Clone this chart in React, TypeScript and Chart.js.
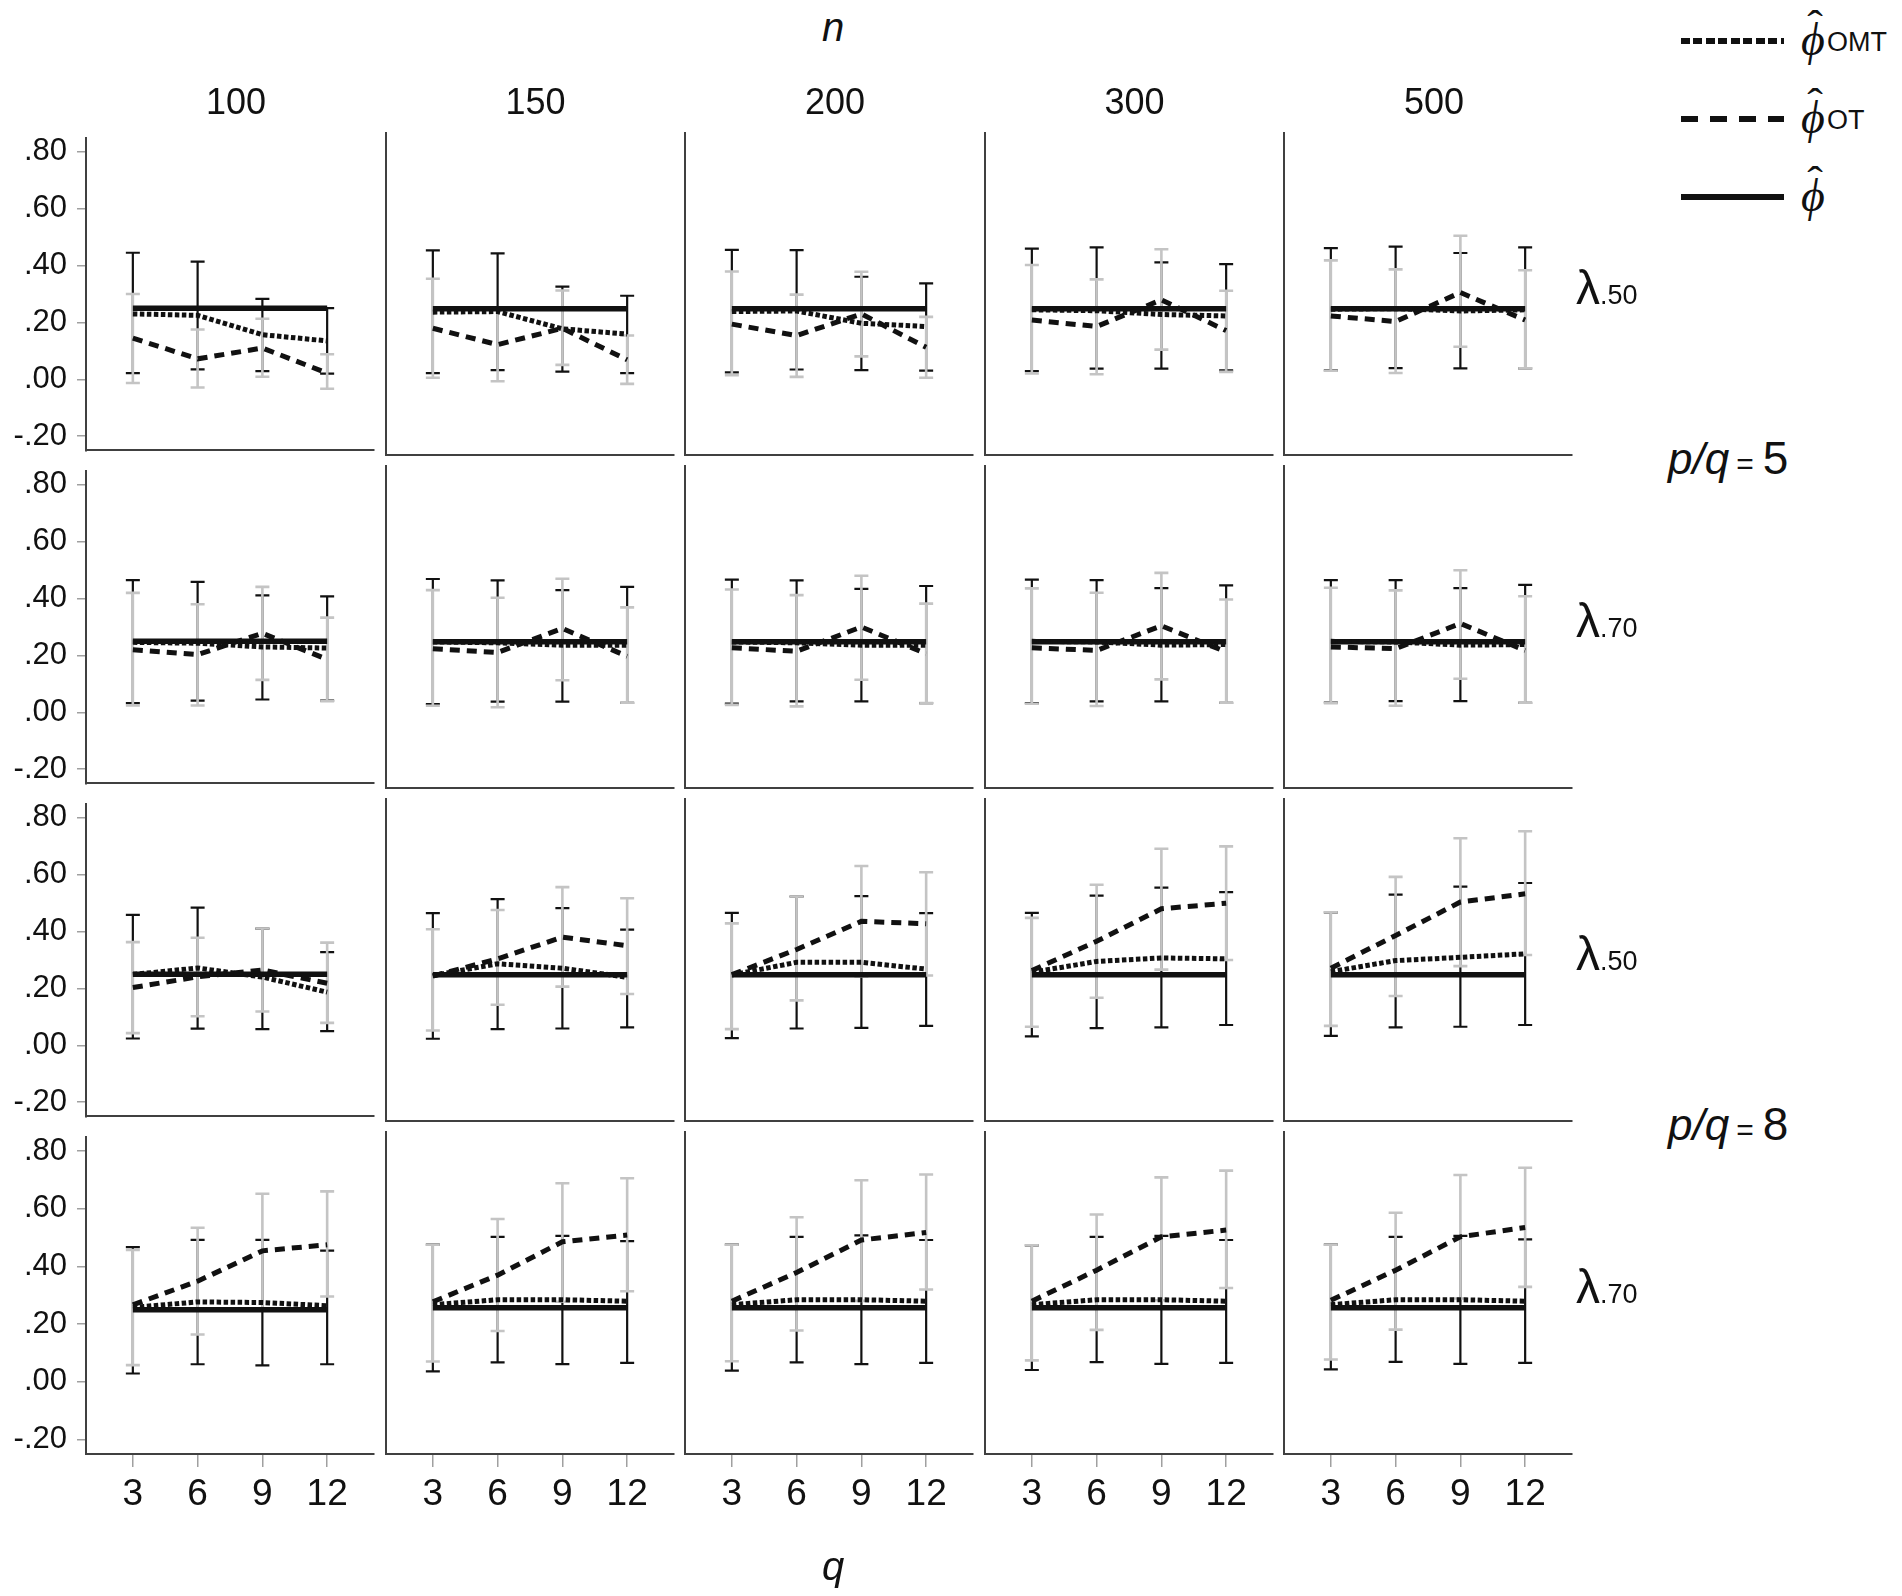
import { useEffect, useRef } from "react"
import { Chart, registerables } from "chart.js"

Chart.register(...registerables)

const Q_VALUES = [3, 6, 9, 12]
const N_VALUES = [100, 150, 200, 300, 500]
const Y_TICKS = [-0.2, 0, 0.2, 0.4, 0.6, 0.8]
const ROW_LAMBDA = [".50", ".70", ".50", ".70"]
const PQ_LABELS = ["5", "8"]
const LEGEND_SUBS = ["OMT", "OT", ""]
const PHI_TRUE = [0.25, 0.25, 0.25, 0.25]

// all below are [row][n][q]
const OMT_MEAN = [
  [[0.23, 0.225, 0.157, 0.135], [0.238, 0.24, 0.181, 0.163], [0.24, 0.242, 0.2, 0.189], [0.246, 0.243, 0.23, 0.225], [0.248, 0.25, 0.242, 0.246]],
  [[0.246, 0.243, 0.23, 0.226], [0.249, 0.246, 0.238, 0.238], [0.249, 0.246, 0.238, 0.238], [0.251, 0.249, 0.238, 0.24], [0.251, 0.249, 0.238, 0.24]],
  [[0.249, 0.272, 0.24, 0.187], [0.247, 0.287, 0.272, 0.241], [0.249, 0.292, 0.292, 0.269], [0.258, 0.295, 0.307, 0.304], [0.26, 0.298, 0.309, 0.321]],
  [[0.258, 0.277, 0.275, 0.264], [0.26, 0.277, 0.277, 0.272], [0.26, 0.277, 0.277, 0.272], [0.26, 0.277, 0.277, 0.272], [0.26, 0.277, 0.277, 0.272]],
]

const OT_MEAN = [
  [[0.145, 0.072, 0.11, 0.022], [0.183, 0.127, 0.183, 0.075], [0.197, 0.158, 0.232, 0.118], [0.211, 0.189, 0.28, 0.175], [0.225, 0.206, 0.305, 0.211]],
  [[0.22, 0.203, 0.278, 0.186], [0.226, 0.213, 0.295, 0.2], [0.229, 0.217, 0.3, 0.209], [0.229, 0.22, 0.304, 0.215], [0.232, 0.226, 0.312, 0.22]],
  [[0.203, 0.241, 0.265, 0.218], [0.245, 0.304, 0.378, 0.349], [0.25, 0.336, 0.432, 0.424], [0.264, 0.364, 0.475, 0.494], [0.272, 0.384, 0.498, 0.526]],
  [[0.267, 0.349, 0.454, 0.475], [0.27, 0.361, 0.475, 0.498], [0.272, 0.37, 0.481, 0.507], [0.272, 0.378, 0.492, 0.515], [0.275, 0.378, 0.492, 0.524]],
]

const OMT_LO = [
  [[0.022, 0.035, 0.029, 0.02], [0.03, 0.04, 0.035, 0.03], [0.032, 0.042, 0.04, 0.038], [0.037, 0.045, 0.045, 0.039], [0.039, 0.047, 0.046, 0.046]],
  [[0.032, 0.041, 0.045, 0.041], [0.037, 0.045, 0.045, 0.041], [0.038, 0.046, 0.046, 0.04], [0.04, 0.046, 0.046, 0.041], [0.042, 0.047, 0.047, 0.041]],
  [[0.024, 0.059, 0.057, 0.05], [0.031, 0.064, 0.066, 0.07], [0.033, 0.066, 0.068, 0.075], [0.039, 0.067, 0.07, 0.078], [0.041, 0.07, 0.072, 0.078]],
  [[0.029, 0.061, 0.057, 0.061], [0.032, 0.063, 0.057, 0.061], [0.035, 0.063, 0.057, 0.061], [0.037, 0.064, 0.058, 0.061], [0.039, 0.065, 0.058, 0.061]],
]

const OMT_HI = [
  [[0.445, 0.414, 0.283, 0.25], [0.449, 0.439, 0.325, 0.294], [0.451, 0.45, 0.359, 0.336], [0.455, 0.459, 0.408, 0.402], [0.457, 0.462, 0.44, 0.459]],
  [[0.465, 0.459, 0.411, 0.408], [0.464, 0.459, 0.426, 0.437], [0.462, 0.459, 0.43, 0.44], [0.462, 0.46, 0.433, 0.442], [0.46, 0.46, 0.433, 0.444]],
  [[0.459, 0.484, 0.41, 0.328], [0.46, 0.508, 0.477, 0.404], [0.461, 0.517, 0.518, 0.46], [0.461, 0.52, 0.547, 0.532], [0.463, 0.523, 0.551, 0.563]],
  [[0.467, 0.492, 0.492, 0.455], [0.465, 0.492, 0.495, 0.477], [0.465, 0.492, 0.497, 0.481], [0.463, 0.492, 0.495, 0.481], [0.465, 0.492, 0.495, 0.483]],
]

const OT_LO = [
  [[-0.013, -0.029, 0.009, -0.033], [0.014, 0.002, 0.058, -0.007], [0.023, 0.017, 0.087, 0.014], [0.029, 0.026, 0.11, 0.034], [0.038, 0.03, 0.12, 0.046]],
  [[0.024, 0.024, 0.114, 0.039], [0.031, 0.026, 0.118, 0.041], [0.034, 0.029, 0.12, 0.04], [0.038, 0.03, 0.121, 0.041], [0.04, 0.031, 0.123, 0.041]],
  [[0.043, 0.102, 0.119, 0.079], [0.059, 0.147, 0.209, 0.184], [0.064, 0.162, 0.244, 0.247], [0.072, 0.171, 0.267, 0.3], [0.075, 0.177, 0.279, 0.317]],
  [[0.058, 0.164, 0.255, 0.296], [0.066, 0.17, 0.27, 0.306], [0.067, 0.172, 0.273, 0.312], [0.07, 0.174, 0.275, 0.317], [0.073, 0.175, 0.281, 0.321]],
]

const OT_HI = [
  [[0.3, 0.175, 0.213, 0.088], [0.352, 0.25, 0.312, 0.158], [0.377, 0.298, 0.376, 0.222], [0.399, 0.35, 0.453, 0.311], [0.415, 0.384, 0.499, 0.381]],
  [[0.42, 0.38, 0.441, 0.333], [0.426, 0.4, 0.465, 0.367], [0.428, 0.409, 0.475, 0.38], [0.432, 0.417, 0.485, 0.394], [0.434, 0.425, 0.494, 0.405]],
  [[0.363, 0.378, 0.411, 0.361], [0.405, 0.471, 0.549, 0.511], [0.425, 0.517, 0.621, 0.6], [0.444, 0.557, 0.68, 0.688], [0.463, 0.584, 0.716, 0.74]],
  [[0.457, 0.534, 0.652, 0.66], [0.465, 0.553, 0.675, 0.692], [0.465, 0.559, 0.685, 0.705], [0.463, 0.568, 0.695, 0.718], [0.465, 0.574, 0.703, 0.728]],
]

const SANS = "'Liberation Sans', Arial, sans-serif"
const SERIF = "'Liberation Serif', 'DejaVu Serif', serif"

// panel geometry (page pixels)
const PANEL_LEFT = 86
const PANEL_TOP = 133
const PANEL_W = 288
const PANEL_H = 322
const COL_STEP = 299.5
const ROW_STEP = 333
const Y_AXIS_W = 86
const PAD = 24
const LAST_ROW_BOTTOM = 110

const errorBarPlugin = {
  id: "errorBars",
  beforeDatasetsDraw(chart: any, _args: any, opts: any) {
    const { ctx } = chart
    const x = chart.scales.x
    const y = chart.scales.y
    const drawBars = (lo: number[], hi: number[], color: string, width: number) => {
      ctx.save()
      ctx.strokeStyle = color
      ctx.lineWidth = width
      ctx.lineCap = "butt"
      Q_VALUES.forEach((q, i) => {
        const px = x.getPixelForValue(q)
        const top = y.getPixelForValue(hi[i])
        const bot = y.getPixelForValue(lo[i])
        ctx.beginPath()
        ctx.moveTo(px, top)
        ctx.lineTo(px, bot)
        ctx.moveTo(px - 7, top)
        ctx.lineTo(px + 7, top)
        ctx.moveTo(px - 7, bot)
        ctx.lineTo(px + 7, bot)
        ctx.stroke()
      })
      ctx.restore()
    }
    drawBars(opts.omtLo, opts.omtHi, "#111111", 2.2)
    drawBars(opts.otLo, opts.otHi, "#c4c4c4", 2.6)
  },
}

function Panel({ row, col }: { row: number; col: number }) {
  const chartRef = useRef<HTMLCanvasElement>(null)
  const isFirstCol = col === 0
  const isLastRow = row === 3
  const padBottom = isLastRow ? LAST_ROW_BOTTOM : PAD
  const left = PANEL_LEFT + col * COL_STEP - Y_AXIS_W
  const top = PANEL_TOP + row * ROW_STEP - PAD
  const width = Math.round(Y_AXIS_W + PANEL_W + PAD)
  const height = PAD + PANEL_H + padBottom

  useEffect(() => {
    if (!chartRef.current) return
    const ctx = chartRef.current.getContext("2d")
    if (!ctx) return

    const toPoints = (vals: number[]) => Q_VALUES.map((q, i) => ({ x: q, y: vals[i] }))

    const chart = new Chart(ctx, {
      type: "line",
      data: {
        datasets: [
          {
            label: "OT",
            data: toPoints(OT_MEAN[row][col]),
            borderColor: "#111",
            borderWidth: 5,
            borderDash: [10, 7],
            pointRadius: 0,
          },
          {
            label: "OMT",
            data: toPoints(OMT_MEAN[row][col]),
            borderColor: "#111",
            borderWidth: 5,
            borderDash: [4.5, 2.5],
            pointRadius: 0,
          },
          {
            label: "phi",
            data: toPoints(PHI_TRUE),
            borderColor: "#111",
            borderWidth: 5.5,
            pointRadius: 0,
          },
        ],
      },
      options: {
        animation: false,
        responsive: false,
        layout: { padding: { top: PAD, right: PAD, left: 0, bottom: 0 } },
        plugins: {
          legend: { display: false },
          tooltip: { enabled: false },
          errorBars: {
            omtLo: OMT_LO[row][col],
            omtHi: OMT_HI[row][col],
            otLo: OT_LO[row][col],
            otHi: OT_HI[row][col],
          },
        } as any,
        scales: {
          x: {
            type: "linear",
            min: 0.83,
            max: 14.17,
            afterBuildTicks: (axis: any) => {
              axis.ticks = Q_VALUES.map((v) => ({ value: v }))
            },
            afterFit: (axis: any) => {
              axis.height = padBottom
            },
            border: { display: true, color: "#404040", width: 2 },
            grid: {
              drawOnChartArea: false,
              drawTicks: isLastRow,
              tickLength: 13,
              color: "#a0a0a0",
              lineWidth: 1.5,
            },
            ticks: {
              display: isLastRow,
              autoSkip: false,
              maxRotation: 0,
              padding: 6,
              color: "#111",
              font: { family: SANS, size: 37 },
              callback: (v: any) => String(v),
            },
          },
          y: {
            type: "linear",
            min: -0.25,
            max: 0.85,
            afterBuildTicks: (axis: any) => {
              axis.ticks = Y_TICKS.map((v) => ({ value: v }))
            },
            afterFit: (axis: any) => {
              axis.width = Y_AXIS_W
            },
            border: { display: true, color: "#404040", width: 2 },
            grid: {
              drawOnChartArea: false,
              drawTicks: isFirstCol,
              tickLength: 9,
              color: "#a0a0a0",
              lineWidth: 1.5,
            },
            ticks: {
              display: isFirstCol,
              padding: 10,
              color: "#111",
              font: { family: SANS, size: 31 },
              callback: (v: any) => Number(v).toFixed(2).replace(/^(-?)0\./, "$1."),
            },
          },
        },
      },
      plugins: [errorBarPlugin],
    })

    return () => {
      chart.destroy()
    }
  }, [row, col, padBottom, isFirstCol, isLastRow])

  return (
    <canvas
      ref={chartRef}
      width={width}
      height={height}
      style={{ position: "absolute", left, top, width, height }}
    />
  )
}

function Label({ x, y, children, style, anchor = "center" }: any) {
  return (
    <div
      style={{
        position: "absolute",
        left: x,
        top: y,
        transform: anchor === "center" ? "translate(-50%, -50%)" : "translate(0, -50%)",
        whiteSpace: "nowrap",
        lineHeight: 1,
        ...style,
      }}
    >
      {children}
    </div>
  )
}

function PhiHat() {
  return (
    <span style={{ position: "relative", display: "inline-block", fontFamily: SERIF, fontStyle: "italic" }}>
      {"\u03D5"}
      <span
        style={{
          position: "absolute",
          left: "50%",
          top: "-0.3em",
          transform: "translateX(-35%) scaleX(1.2)",
          fontStyle: "normal",
          fontSize: "0.85em",
        }}
      >
        {"\u02C6"}
      </span>
    </span>
  )
}

export default function App() {
  useEffect(() => {
    document.body.style.margin = "0"
  }, [])

  const legendPatterns = [
    "repeating-linear-gradient(to right, #111 0 9px, transparent 9px 12.5px)",
    "repeating-linear-gradient(to right, #111 0 17px, transparent 17px 29px)",
    "#111",
  ]

  return (
    <div
      style={{
        position: "relative",
        width: 1902,
        height: 1596,
        background: "#fff",
        fontFamily: SANS,
        color: "#111",
        overflow: "hidden",
      }}
    >
      {ROW_LAMBDA.map((_, r) =>
        N_VALUES.map((_, c) => <Panel key={`${r}-${c}`} row={r} col={c} />)
      )}

      <Label x={833} y={27} style={{ fontSize: 40, fontStyle: "italic" }}>
        n
      </Label>
      <Label x={833} y={1566} style={{ fontSize: 40, fontStyle: "italic" }}>
        q
      </Label>

      {N_VALUES.map((n, c) => (
        <Label key={n} x={PANEL_LEFT + c * COL_STEP + PANEL_W / 2 + 6} y={102} style={{ fontSize: 36 }}>
          {n}
        </Label>
      ))}

      {ROW_LAMBDA.map((lam, r) => (
        <Label key={r} x={1576} y={PANEL_TOP + r * ROW_STEP + PANEL_H / 2 - 6} anchor="left">
          <span style={{ display: "inline-flex", alignItems: "baseline" }}>
            <span style={{ fontSize: 48 }}>λ</span>
            <span style={{ fontSize: 27 }}>{lam}</span>
          </span>
        </Label>
      ))}

      {PQ_LABELS.map((pq, i) => (
        <Label key={pq} x={1668} y={PANEL_TOP + (2 * i + 1) * ROW_STEP - 8} anchor="left">
          <span style={{ display: "inline-flex", alignItems: "baseline" }}>
            <span style={{ fontSize: 44, fontStyle: "italic" }}>p/q</span>
            <span style={{ fontSize: 30, margin: "0 9px 0 7px" }}>=</span>
            <span style={{ fontSize: 46 }}>{pq}</span>
          </span>
        </Label>
      ))}

      {LEGEND_SUBS.map((sub, i) => {
        const cy = 41 + i * 78
        return (
          <div key={i}>
            <div
              style={{
                position: "absolute",
                left: 1681,
                top: cy - 3,
                width: 103,
                height: 6,
                background: legendPatterns[i],
              }}
            />
            <Label x={1813} y={cy - 2} style={{ fontSize: 46 }}>
              <PhiHat />
            </Label>
            {sub && (
              <Label x={1827} y={cy + 1} anchor="left" style={{ fontSize: 27 }}>
                {sub}
              </Label>
            )}
          </div>
        )
      })}
    </div>
  )
}
